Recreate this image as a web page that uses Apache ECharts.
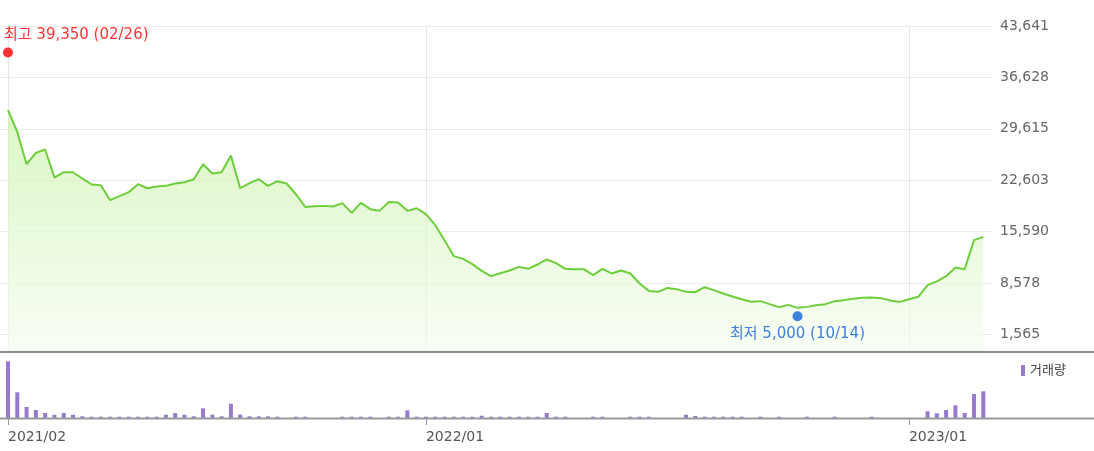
<!DOCTYPE html>
<html><head><meta charset="utf-8">
<script src="https://cdn.jsdelivr.net/npm/echarts@6/dist/echarts.min.js"></script>
<style>html,body{margin:0;padding:0;background:#fff}#c{width:1094px;height:451px}</style>
</head><body><div id="c"></div>
<script>
// weekly dates (one point per week)
const dates = [
'2021/02/26','2021/03/05','2021/03/12','2021/03/19','2021/03/26','2021/04/02','2021/04/09','2021/04/16','2021/04/23','2021/04/30',
'2021/05/07','2021/05/14','2021/05/21','2021/05/28','2021/06/04','2021/06/11','2021/06/18','2021/06/25','2021/07/02','2021/07/09',
'2021/07/16','2021/07/23','2021/07/30','2021/08/06','2021/08/13','2021/08/20','2021/08/27','2021/09/03','2021/09/10','2021/09/17',
'2021/09/24','2021/10/01','2021/10/08','2021/10/15','2021/10/22','2021/10/29','2021/11/05','2021/11/12','2021/11/19','2021/11/26',
'2021/12/03','2021/12/10','2021/12/17','2021/12/24','2021/12/31','2022/01/07','2022/01/14','2022/01/21','2022/01/28','2022/02/04',
'2022/02/11','2022/02/18','2022/02/25','2022/03/04','2022/03/11','2022/03/18','2022/03/25','2022/04/01','2022/04/08','2022/04/15',
'2022/04/22','2022/04/29','2022/05/06','2022/05/13','2022/05/20','2022/05/27','2022/06/03','2022/06/10','2022/06/17','2022/06/24',
'2022/07/01','2022/07/08','2022/07/15','2022/07/22','2022/07/29','2022/08/05','2022/08/12','2022/08/19','2022/08/26','2022/09/02',
'2022/09/09','2022/09/16','2022/09/23','2022/09/30','2022/10/07','2022/10/14','2022/10/21','2022/10/28','2022/11/04','2022/11/11',
'2022/11/18','2022/11/25','2022/12/02','2022/12/09','2022/12/16','2022/12/23','2022/12/30','2023/01/06','2023/01/13','2023/01/20',
'2023/01/27','2023/02/03','2023/02/10','2023/02/17','2023/02/24','2023/03/03'
];
// weekly close price (KRW)
const closes = [
32150,29190,24790,26330,26790,22970,23690,23690,22840,22020,
21920,19880,20420,20970,22060,21510,21740,21830,22150,22330,
22740,24790,23520,23690,25970,21510,22200,22740,21830,22470,
22150,20690,18960,19060,19100,19020,19470,18140,19510,18650,
18420,19640,19560,18420,18780,17970,16470,14420,12240,11870,
11150,10230,9510,9900,10290,10780,10510,11100,11790,11280,
10510,10460,10460,9650,10510,9880,10290,9880,8510,7500,
7370,7910,7740,7370,7330,8000,7600,7150,6740,6370,
6030,6100,5690,5280,5590,5190,5320,5550,5690,6100,
6240,6420,6550,6600,6510,6190,6000,6370,6690,8280,
8790,9510,10700,10460,14420,14870
];
// weekly volume (relative units)
const volumes = [
56700,25700,11000,8000,5000,3300,5000,3300,1700,1300,
1300,1300,1300,1300,1300,1300,1300,3300,5000,3300,
1700,9700,3300,1700,14300,3300,1700,1700,1700,1300,
0,1300,1300,0,0,0,1300,1300,1300,1300,
0,1300,1300,7700,1300,1300,1300,1300,1300,1300,
1300,2300,1300,1300,1300,1300,1300,1300,5000,1300,
1300,0,0,1300,1300,0,0,1300,1300,1300,
0,0,0,3300,2000,1300,1300,1300,1300,1300,
0,1300,0,1300,0,0,1300,0,0,1300,
0,0,0,1300,0,0,0,0,0,6700,
4700,8000,12700,5000,24000,26700
];
const yTicks = [1565, 8578, 15590, 22603, 29615, 36628, 43641];
const highPoint = {idx: 0, value: 39350};
const lowPoint = {idx: 85, value: 5000};
const volumeName = '거래량';

const FONT = "'DejaVu Sans', 'Noto Sans CJK KR', sans-serif";
const xLabelIdx = dates.map((d, i) => i).filter(i => i === 0 || dates[i].slice(0, 4) !== dates[i - 1].slice(0, 4));
const fmtNum = v => Math.round(v).toLocaleString('en-US');
const markLabel = (p, word) => word + ' ' + fmtNum(p.value) + ' (' + dates[p.idx].slice(5) + ')';

const xMin = -0.86, xMax = 105.94;
const chart = echarts.init(document.getElementById('c'), null, {renderer: 'canvas'});
chart.setOption({
  animation: false,
  backgroundColor: '#fff',
  grid: [
    {left: 0, right: 102, top: 26, bottom: 100},
    {left: 0, right: 102, top: 351, bottom: 33}
  ],
  legend: {
    data: [volumeName], left: 1021, top: 364, icon: 'rect', itemWidth: 4, itemHeight: 11,
    padding: 0, selectedMode: false,
    textStyle: {fontSize: 13, color: '#444', fontFamily: FONT}
  },
  xAxis: [
    {type: 'value', gridIndex: 0, min: xMin, max: xMax,
     axisLine: {show: false}, axisLabel: {show: false},
     axisTick: {show: false, customValues: xLabelIdx},
     splitLine: {show: true, lineStyle: {color: '#e6e6e6', width: 1}}},
    {type: 'value', gridIndex: 1, min: xMin, max: xMax,
     axisLine: {show: false},
     axisTick: {show: true, customValues: xLabelIdx, length: 7, lineStyle: {color: '#999'}},
     axisLabel: {customValues: xLabelIdx, formatter: v => dates[Math.round(v)].slice(0, 7),
                 align: 'left', margin: 12, color: '#555', fontSize: 14, fontFamily: FONT},
     splitLine: {show: false}}
  ],
  yAxis: [
    {type: 'value', gridIndex: 0, position: 'right', min: -700, max: 43641,
     axisLine: {show: false},
     axisTick: {show: false, customValues: yTicks},
     axisLabel: {customValues: yTicks, formatter: v => fmtNum(v), margin: 8,
                 color: '#666', fontSize: 14, fontFamily: FONT},
     splitLine: {show: true, lineStyle: {color: '#ebebeb', width: 1}}},
    {type: 'value', gridIndex: 1, min: 0, max: 67000, show: false}
  ],
  series: [
    {type: 'line', xAxisIndex: 0, yAxisIndex: 0, silent: true,
     data: closes.map((v, i) => [i, v]), symbol: 'none', showSymbol: false,
     lineStyle: {color: '#6ccf3a', width: 2},
     areaStyle: {origin: 'start', color: new echarts.graphic.LinearGradient(0, 0, 0, 1, [
       {offset: 0, color: '#ccf2ab'}, {offset: 1, color: '#f5fdf0'}])},
     z: 2},
    {type: 'scatter', xAxisIndex: 0, yAxisIndex: 0, symbolSize: 10, z: 5, silent: true,
     data: [
       {value: [highPoint.idx, highPoint.value], symbolOffset: [0, -5], itemStyle: {color: '#ff0000'},
        label: {show: true, formatter: markLabel(highPoint, '최고'), position: 'top', align: 'left',
                offset: [-4, 0], color: '#ff0000', fontSize: 15, fontFamily: FONT}},
       {value: [lowPoint.idx, lowPoint.value], symbolOffset: [0, 7], itemStyle: {color: '#0f62d6'},
        label: {show: true, formatter: markLabel(lowPoint, '최저'), position: 'bottom',
                color: '#0f62d6', fontSize: 15, fontFamily: FONT}}
     ]},
    {type: 'bar', name: volumeName, xAxisIndex: 1, yAxisIndex: 1, silent: true,
     data: volumes.map((v, i) => [i, v]), barWidth: 4, itemStyle: {color: '#9779cf'}}
  ],
  graphic: [
    {type: 'line', z: 100, shape: {x1: 0, y1: 352, x2: 1094, y2: 352}, style: {stroke: '#8c8c8c', lineWidth: 2}},
    {type: 'line', z: 100, shape: {x1: 0, y1: 418.5, x2: 1094, y2: 418.5}, style: {stroke: '#9a9a9a', lineWidth: 2}}
  ]
});
</script></body></html>
